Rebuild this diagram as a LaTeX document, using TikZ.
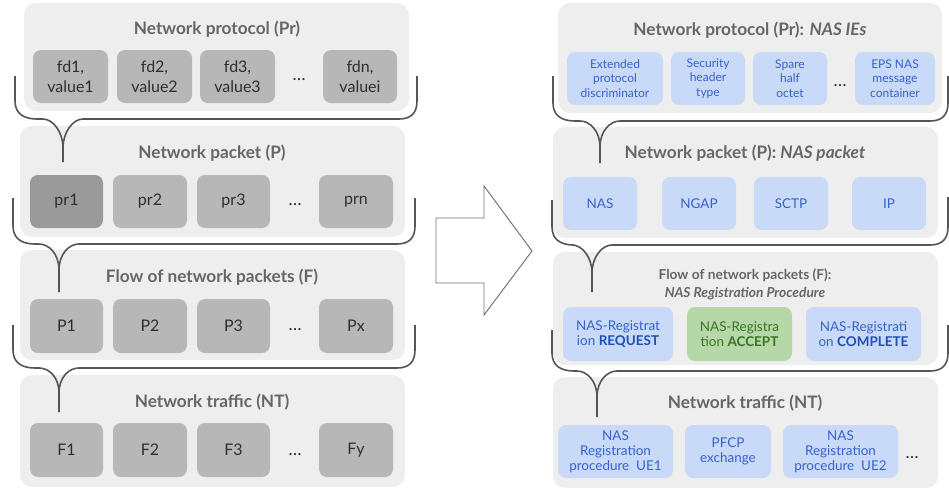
\documentclass[tikz,border=0pt]{standalone}
\usepackage{fontspec}
\setmainfont{Lato}
\definecolor{panelgray}{HTML}{EEEEEE}
\definecolor{boxgray}{HTML}{B7B7B7}
\definecolor{boxdark}{HTML}{9A9A9A}
\definecolor{txtdark}{HTML}{2E2E2E}
\definecolor{headgray}{HTML}{666666}
\definecolor{bracegray}{HTML}{555555}
\definecolor{boxblue}{HTML}{C9DAF8}
\definecolor{txtblue}{HTML}{3562CC}
\definecolor{boldblue}{HTML}{1E4FB5}
\definecolor{boxgreen}{HTML}{B6D7A8}
\definecolor{txtgreen}{HTML}{3A7526}
\definecolor{arrowgray}{HTML}{707070}
\newcommand{\bx}[7]{\node[#6, minimum width={(#4-#2)*0.75pt}, minimum height={(#5-#3)*0.75pt}] (#1) at ({(#2+#4)/2},{(#3+#5)/2}) {#7};}
% brace: xl, yend-left, yh, xt, yconv, ystem, xr, yend-right
\newcommand{\mybrace}[8]{%
  \draw[brace] ({#1},{#2}) -- ({#1},{#3-18}) .. controls ({#1},{#3-6}) and ({#1+8},{#3}) .. ({#1+22},{#3}) -- ({#4-20},{#3})
     .. controls ({#4-10},{#3}) and ({#4},{#5-16}) .. ({#4},{#5}) -- ({#4},{#6});
  \draw[brace] ({#4},{#5}) .. controls ({#4},{#5-16}) and ({#4+10},{#3}) .. ({#4+20},{#3}) -- ({#7-18},{#3})
     .. controls ({#7-6},{#3}) and ({#7},{#3-6}) .. ({#7},{#3-18}) -- ({#7},{#8});
}
\begin{document}
\begin{tikzpicture}[x=0.75pt,y=-0.75pt,
  panel/.style={fill=panelgray, rounded corners=9pt, inner sep=0pt},
  gbox/.style={fill=boxgray, rounded corners=6pt, text=txtdark, align=center, inner sep=0pt, font=\fontsize{12}{15}\selectfont},
  gdark/.style={gbox, fill=boxdark},
  bbox/.style={fill=boxblue, rounded corners=6pt, text=txtblue, align=center, inner sep=0pt, font=\fontsize{10.1}{11.4}\selectfont},
  bsmall/.style={bbox, font=\fontsize{9}{10.9}\selectfont},
  gnbox/.style={fill=boxgreen, rounded corners=6pt, text=txtgreen, align=center, inner sep=0pt, font=\fontsize{10.1}{11.4}\selectfont},
  heading/.style={text=headgray, font=\fontsize{12.9}{15}\selectfont\bfseries, inner sep=0pt},
  headsmall/.style={text=headgray, font=\fontsize{10.3}{13.5}\selectfont\bfseries, inner sep=0pt, align=center},
  dotsnode/.style={text=txtdark, font=\fontsize{13}{15}\selectfont, inner sep=0pt},
  brace/.style={draw=bracegray, line width=1.2pt},
]
\useasboundingbox (0,0) rectangle (949,490);

% ---------------- left column ----------------
\bx{lp1}{24}{3}{409}{111}{panel}{}
\bx{lp2}{20}{126}{405}{237}{panel}{}
\bx{lp3}{20}{250}{405}{360}{panel}{}
\bx{lp4}{20}{375}{405}{487}{panel}{}

\node[heading] (lh1) at (217,29) {Network protocol (Pr)};
\node[heading] (lh2) at (212,153) {Network packet (P)};
\node[heading] (lh3) at (212,277) {Flow of network packets (F)};
\node[heading] (lh4) at (212,402) {Network traffic (NT)};

\bx{fd1}{33}{50}{108}{103}{gbox}{fd1,\\value1}
\bx{fd2}{117}{50}{192}{103}{gbox}{fd2,\\value2}
\bx{fd3}{200}{50}{275}{103}{gbox}{fd3,\\value3}
\node[dotsnode] (d1) at (299,80) {\dots};
\bx{fdn}{323}{50}{397}{103}{gbox}{fdn,\\valuei}

\bx{pr1}{30}{175}{103}{228}{gdark}{pr1}
\bx{pr2}{113}{175}{187}{228}{gbox}{pr2}
\bx{pr3}{197}{175}{270}{228}{gbox}{pr3}
\node[dotsnode] (d2) at (295,205) {\dots};
\bx{prn}{319}{175}{393}{228}{gbox}{prn}

\bx{P1}{30}{299}{103}{353}{gbox}{P1}
\bx{P2}{113}{299}{187}{353}{gbox}{P2}
\bx{P3}{197}{299}{270}{353}{gbox}{P3}
\node[dotsnode] (d3) at (295,330) {\dots};
\bx{Px}{319}{299}{393}{353}{gbox}{Px}

\bx{F1}{30}{423}{103}{477}{gbox}{F1}
\bx{F2}{113}{423}{187}{477}{gbox}{F2}
\bx{F3}{197}{423}{270}{477}{gbox}{F3}
\node[dotsnode] (d4) at (295,455) {\dots};
\bx{Fy}{319}{423}{393}{477}{gbox}{Fy}

\mybrace{15}{76}{119}{63}{148}{162}{417}{76}
\mybrace{13}{198}{244}{59}{270}{292}{415}{198}
\mybrace{13}{325}{368}{59}{393}{412}{415}{325}

% ---------------- arrow ----------------
\draw[draw=arrowgray, fill=white, line width=0.7pt] (436,218) -- (484,218) -- (484,186) -- (532,251) -- (484,315) -- (484,283) -- (436,283) -- cycle;

% ---------------- right column ----------------
\bx{rp1}{558}{3}{942}{113}{panel}{}
\bx{rp2}{553}{127}{938}{238}{panel}{}
\bx{rp3}{553}{252}{938}{365}{panel}{}
\bx{rp4}{553}{377}{938}{488}{panel}{}

\node[heading] (rh1) at (750,30) {Network protocol (Pr): \textit{NAS IEs}};
\node[heading] (rh2) at (745,153) {Network packet (P): \textit{NAS packet}};
\node[headsmall] (rh3) at (745,284) {Flow of network packets (F):\\\textit{NAS Registration Procedure}};
\node[heading] (rh4) at (745,403) {Network traffic (NT)};

\bx{ie1}{567}{52}{663}{105}{bsmall}{Extended\\protocol\\discriminator}
\bx{ie2}{671}{52}{745}{105}{bsmall}{Security\\header\\type}
\bx{ie3}{753}{52}{827}{105}{bsmall}{Spare\\half\\octet}
\node[dotsnode] (d5) at (840,86) {\dots};
\bx{ie4}{855}{52}{935}{105}{bsmall}{EPS NAS\\message\\container}

\bx{nas}{563}{177}{637}{230}{bbox}{NAS}
\bx{ngap}{662}{177}{736}{230}{bbox}{NGAP}
\bx{sctp}{754}{177}{828}{230}{bbox}{SCTP}
\bx{ip}{852}{177}{926}{230}{bbox}{IP}

\bx{req}{563}{307}{673}{361}{bbox}{NAS-Registrat\\ion \textcolor{boldblue}{\textbf{REQUEST}}}
\bx{acc}{687}{307}{792}{361}{gnbox}{NAS-Registra\\tion \textbf{ACCEPT}}
\bx{cmp}{806}{307}{921}{361}{bbox}{NAS-Registrati\\on \textcolor{boldblue}{\textbf{COMPLETE}}}

\bx{ue1}{558}{425}{673}{478}{bbox}{NAS\\Registration\\procedure\ \ UE1}
\bx{pfcp}{685}{425}{771}{478}{bbox}{PFCP\\exchange}
\bx{ue2}{783}{425}{898}{478}{bbox}{NAS\\Registration\\procedure\ \ UE2}
\node[dotsnode] (d6) at (912,458) {\dots};

\mybrace{553}{76}{121}{600}{147}{163}{948}{76}
\mybrace{552}{200}{245}{592}{273}{292}{948}{197}
\mybrace{552}{330}{371}{597}{397}{417}{948}{325}
\end{tikzpicture}
\end{document}
